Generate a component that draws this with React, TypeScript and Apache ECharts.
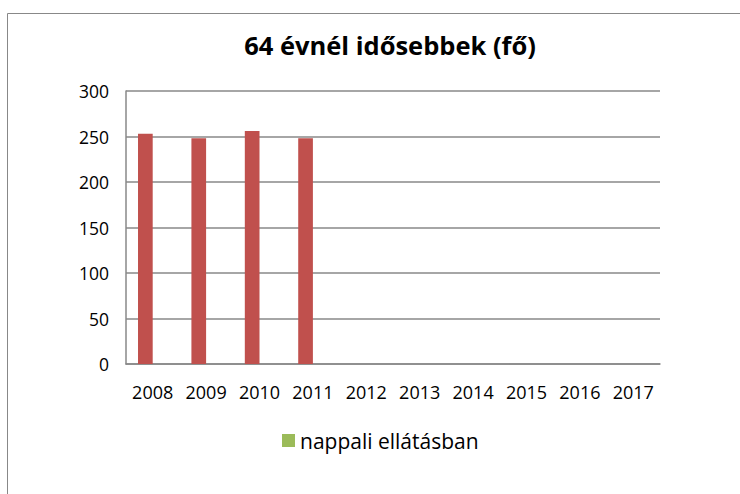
import React, { useEffect, useRef } from "react";
import * as echarts from "echarts";

const years = ["2008", "2009", "2010", "2011", "2012", "2013", "2014", "2015", "2016", "2017"];
const redSeries = [253, 248, 256, 248, null, null, null, null, null, null];
const greenSeries = [null, null, null, null, null, null, null, null, null, null];
const title = "64 évnél idősebbek (fő)";
const legendName = "nappali ellátásban";

export default function App() {
  const ref = useRef<HTMLDivElement>(null);
  useEffect(() => {
    if (!ref.current) return;
    const chart = echarts.init(ref.current, undefined, { renderer: "svg" });
    const font = "'Open Sans', sans-serif";
    chart.setOption({
      animation: false,
      backgroundColor: "#ffffff",
      title: {
        text: title,
        left: 385,
        textAlign: "center",
        top: 27,
        textStyle: { fontFamily: font, fontWeight: "bold", fontSize: 25.5, color: "#000" },
      },
      graphic: [
        {
          type: "rect",
          shape: { x: 7.5, y: 13.5, width: 900, height: 700 },
          style: { fill: "none", stroke: "#888888", lineWidth: 1 },
          silent: true,
        },
      ],
      legend: {
        data: [legendName],
        left: 277,
        top: 425,
        icon: "rect",
        itemWidth: 13,
        itemHeight: 13,
        itemGap: 8,
        textStyle: { fontFamily: font, fontSize: 21, color: "#000" },
      },
      grid: { left: 126, right: 80, top: 91, bottom: 130, containLabel: false },
      xAxis: {
        type: "category",
        data: years,
        axisLine: { lineStyle: { color: "#888888", width: 1.5 } },
        axisTick: { show: false },
        axisLabel: {
          interval: 0,
          hideOverlap: false,
          margin: 19,
          fontFamily: font,
          fontSize: 18,
          color: "#000",
        },
      },
      yAxis: {
        type: "value",
        min: 0,
        max: 300,
        interval: 50,
        axisLine: { show: true, lineStyle: { color: "#888888", width: 1.5 } },
        axisTick: { show: false },
        splitLine: { lineStyle: { color: "#888888", width: 1.5 } },
        axisLabel: { margin: 17, fontFamily: font, fontSize: 17.5, color: "#000" },
      },
      series: [
        {
          name: "ellátottak",
          type: "bar",
          data: redSeries,
          barGap: "0%",
          barCategoryGap: "45%",
          itemStyle: { color: "#C0504D" },
        },
        {
          name: legendName,
          type: "bar",
          data: greenSeries,
          itemStyle: { color: "#9BBB59" },
        },
      ],
    });
    return () => chart.dispose();
  }, []);
  return (
    <div
      ref={ref}
      style={{ position: "absolute", left: 0, top: 0, width: 740, height: 494 }}
    />
  );
}
